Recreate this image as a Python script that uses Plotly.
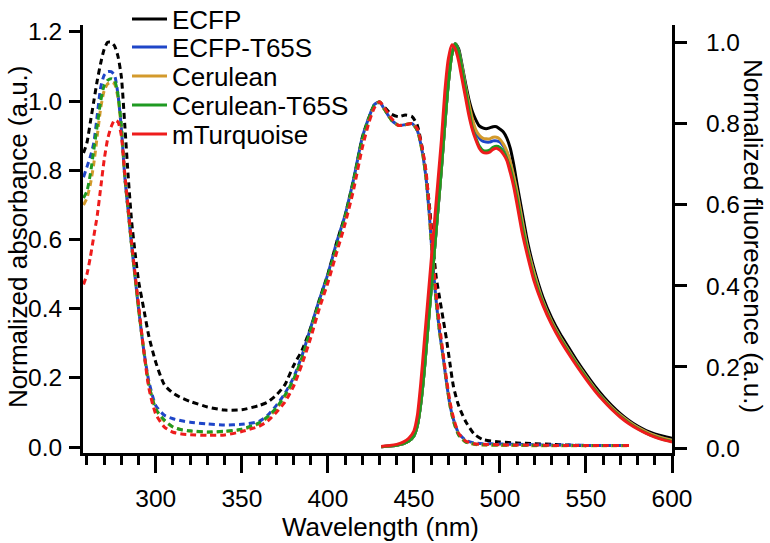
import plotly.graph_objects as go

names = ["ECFP", "ECFP-T65S", "Cerulean", "Cerulean-T65S", "mTurquoise"]
colors = ["#000000", "#1f46c8", "#d39a2c", "#1f9a22", "#ee1c1c"]

# Absorbance (dashed, left axis)
abs_wl = [258, 260, 262, 264, 266, 268, 270, 272, 274, 276,
          278, 280, 282, 284, 286, 288, 290, 293, 296, 300,
          305, 310, 315, 320, 330, 340, 350, 360, 365, 370,
          375, 380, 385, 390, 395, 400, 405, 410, 415, 420,
          424, 427, 430, 433, 437, 441, 445, 449, 452, 455,
          457, 459, 461, 463, 465, 467, 469, 471, 473, 476,
          480, 485, 490, 500, 510, 520, 530, 540, 550, 560,
          575]

abs_ecfp = [0.85, 0.88, 0.94, 1.00, 1.06, 1.11, 1.15, 1.17, 1.17, 1.16,
            1.13, 1.07, 0.93, 0.78, 0.65, 0.56, 0.48, 0.40, 0.32, 0.245,
            0.18, 0.156, 0.142, 0.132, 0.116, 0.107, 0.108, 0.120, 0.130, 0.150,
            0.180, 0.235, 0.280, 0.345, 0.425, 0.500, 0.590, 0.670, 0.775, 0.895,
            0.955, 0.988, 0.997, 0.982, 0.962, 0.955, 0.960, 0.955, 0.930, 0.860,
            0.790, 0.700, 0.590, 0.490, 0.430, 0.370, 0.310, 0.240, 0.175, 0.120,
            0.075, 0.038, 0.022, 0.015, 0.012, 0.010, 0.008, 0.006, 0.004, None,
            None]

abs_ecfp_t65s = [0.78, 0.81, 0.84, 0.88, 0.96, 1.04, 1.075, 1.085, 1.085, 1.075,
                 1.02, 0.92, 0.78, 0.68, 0.58, 0.49, 0.40, 0.28, 0.19, 0.12,
                 0.092, 0.082, 0.076, 0.072, 0.067, 0.064, 0.066, 0.074, 0.092, 0.120,
                 0.155, 0.200, 0.265, 0.345, 0.425, 0.500, 0.590, 0.670, 0.775, 0.895,
                 0.955, 0.990, 0.998, 0.975, 0.945, 0.930, 0.932, 0.935, 0.915, 0.850,
                 0.780, 0.670, 0.530, 0.420, 0.330, 0.260, 0.185, 0.120, 0.080, 0.040,
                 0.020, 0.012, 0.010, 0.009, 0.008, 0.007, 0.006, 0.006, 0.005, 0.005,
                 0.005]

abs_cerulean = [0.70, 0.72, 0.76, 0.82, 0.90, 0.98, 1.03, 1.05, 1.055, 1.05,
                1.01, 0.92, 0.78, 0.68, 0.58, 0.49, 0.40, 0.28, 0.18, 0.11,
                0.075, 0.058, 0.050, 0.046, 0.043, 0.045, 0.050, 0.068, 0.085, 0.110,
                0.145, 0.190, 0.255, 0.335, 0.415, 0.490, 0.575, 0.660, 0.765, 0.885,
                0.950, 0.985, 0.998, 0.975, 0.945, 0.930, 0.932, 0.935, 0.915, 0.850,
                0.780, 0.670, 0.530, 0.420, 0.330, 0.260, 0.185, 0.120, 0.075, 0.035,
                0.015, 0.008, 0.006, 0.005, 0.005, 0.004, 0.004, 0.004, 0.004, 0.004,
                0.004]

abs_cerulean_t65s = [0.72, 0.74, 0.79, 0.86, 0.93, 1.00, 1.045, 1.06, 1.065, 1.06,
                     1.02, 0.93, 0.78, 0.68, 0.58, 0.49, 0.40, 0.28, 0.18, 0.11,
                     0.078, 0.058, 0.050, 0.047, 0.044, 0.046, 0.052, 0.070, 0.088, 0.113,
                     0.150, 0.195, 0.260, 0.340, 0.420, 0.495, 0.580, 0.665, 0.770, 0.890,
                     0.952, 0.988, 0.998, 0.975, 0.945, 0.930, 0.932, 0.935, 0.915, 0.850,
                     0.780, 0.670, 0.530, 0.420, 0.330, 0.260, 0.185, 0.120, 0.075, 0.035,
                     0.015, 0.009, 0.007, 0.006, 0.006, 0.005, 0.005, 0.005, 0.005, 0.005,
                     0.005]

abs_mturquoise = [0.47, 0.50, 0.55, 0.61, 0.67, 0.75, 0.83, 0.89, 0.925, 0.945,
                  0.94, 0.90, 0.79, 0.69, 0.59, 0.50, 0.41, 0.28, 0.17, 0.095,
                  0.058, 0.043, 0.038, 0.036, 0.034, 0.035, 0.045, 0.060, 0.075, 0.100,
                  0.130, 0.175, 0.240, 0.315, 0.400, 0.475, 0.560, 0.645, 0.745, 0.865,
                  0.940, 0.980, 0.998, 0.980, 0.950, 0.930, 0.932, 0.935, 0.920, 0.860,
                  0.800, 0.690, 0.560, 0.440, 0.350, 0.270, 0.195, 0.130, 0.085, 0.040,
                  0.018, 0.010, 0.008, 0.007, 0.006, 0.006, 0.005, 0.005, 0.005, 0.005,
                  0.005]

# Fluorescence (solid, right axis)
fl_wl = [431, 436, 440, 444, 447, 450, 452, 454, 456, 458,
         460, 462, 464, 466, 468, 470, 472, 474, 476, 478,
         480, 482, 484, 486, 488, 490, 492, 494, 496, 498,
         500, 502, 504, 506, 508, 510, 513, 516, 520, 525,
         530, 535, 540, 545, 550, 555, 560, 565, 570, 575,
         580, 585, 590, 595, 600]

fl_ecfp = [0.003, 0.005, 0.007, 0.011, 0.017, 0.030, 0.055, 0.110, 0.190, 0.290,
           0.390, 0.490, 0.590, 0.690, 0.800, 0.900, 0.970, 0.998, 0.985, 0.945,
           0.900, 0.860, 0.830, 0.810, 0.795, 0.790, 0.788, 0.790, 0.793, 0.793,
           0.787, 0.780, 0.765, 0.740, 0.700, 0.650, 0.580, 0.510, 0.440, 0.372,
           0.322, 0.282, 0.248, 0.214, 0.183, 0.154, 0.128, 0.105, 0.085, 0.068,
           0.054, 0.043, 0.035, 0.029, 0.024]

fl_ecfp_t65s = [0.003, 0.005, 0.007, 0.011, 0.017, 0.030, 0.055, 0.110, 0.190, 0.290,
                0.390, 0.490, 0.590, 0.690, 0.800, 0.900, 0.970, 0.998, 0.980, 0.940,
                0.890, 0.845, 0.805, 0.780, 0.765, 0.757, 0.755, 0.755, 0.758, 0.758,
                0.755, 0.745, 0.730, 0.705, 0.670, 0.630, 0.560, 0.495, 0.430, 0.362,
                0.313, 0.274, 0.240, 0.207, 0.177, 0.148, 0.122, 0.100, 0.081, 0.065,
                0.051, 0.040, 0.031, 0.024, 0.019]

fl_cerulean = [0.003, 0.005, 0.007, 0.011, 0.017, 0.030, 0.055, 0.110, 0.190, 0.290,
               0.390, 0.490, 0.590, 0.690, 0.800, 0.900, 0.970, 0.998, 0.980, 0.940,
               0.892, 0.850, 0.812, 0.785, 0.772, 0.765, 0.763, 0.763, 0.767, 0.767,
               0.762, 0.750, 0.733, 0.707, 0.672, 0.632, 0.560, 0.495, 0.430, 0.362,
               0.313, 0.274, 0.240, 0.207, 0.177, 0.148, 0.122, 0.100, 0.081, 0.065,
               0.051, 0.040, 0.031, 0.024, 0.019]

fl_cerulean_t65s = [0.003, 0.005, 0.007, 0.011, 0.017, 0.030, 0.055, 0.110, 0.190, 0.290,
                    0.390, 0.490, 0.590, 0.690, 0.800, 0.900, 0.970, 0.998, 0.980, 0.935,
                    0.885, 0.835, 0.790, 0.765, 0.745, 0.735, 0.733, 0.735, 0.742, 0.745,
                    0.742, 0.732, 0.714, 0.690, 0.655, 0.615, 0.545, 0.485, 0.418, 0.357,
                    0.309, 0.270, 0.236, 0.204, 0.174, 0.145, 0.120, 0.097, 0.078, 0.062,
                    0.048, 0.037, 0.028, 0.021, 0.016]

fl_mturquoise = [0.004, 0.006, 0.009, 0.015, 0.024, 0.042, 0.080, 0.160, 0.260, 0.360,
                 0.460, 0.560, 0.660, 0.760, 0.880, 0.960, 0.995, 0.985, 0.955, 0.910,
                 0.865, 0.820, 0.785, 0.760, 0.740, 0.730, 0.728, 0.730, 0.737, 0.740,
                 0.735, 0.725, 0.710, 0.680, 0.645, 0.600, 0.530, 0.475, 0.410, 0.352,
                 0.305, 0.266, 0.232, 0.200, 0.170, 0.142, 0.117, 0.095, 0.076, 0.060,
                 0.047, 0.036, 0.027, 0.020, 0.015]

abs_series = [abs_ecfp, abs_ecfp_t65s, abs_cerulean, abs_cerulean_t65s, abs_mturquoise]
fl_series = [fl_ecfp, fl_ecfp_t65s, fl_cerulean, fl_cerulean_t65s, fl_mturquoise]

FONT = "Arial, 'Liberation Sans', Helvetica, sans-serif"
W, H = 770, 543
ML, MR, MT, MB = 83, 98, 0, 90
PLOT_TOP_PX = 25  # top of axes area
paper_h = H - MT - MB
paper_w = W - ML - MR
ydom_top = (H - MB - PLOT_TOP_PX) / paper_h

legend_keys = ["legend", "legend2", "legend3", "legend4", "legend5"]
legend_px_y = [19, 47, 76, 105, 134]

fig = go.Figure()
for name, col, ys in zip(names, colors, abs_series):
    fig.add_trace(go.Scatter(
        x=abs_wl, y=ys, mode="lines", name=name, showlegend=False,
        line=dict(color=col, width=3, dash="6px,4px", shape="spline", smoothing=0.6),
        connectgaps=False, yaxis="y"))
for name, col, ys, lk in zip(names, colors, fl_series, legend_keys):
    fig.add_trace(go.Scatter(
        x=fl_wl, y=ys, mode="lines", name=name, legend=lk,
        line=dict(color=col, width=3, shape="spline", smoothing=0.6),
        yaxis="y2"))

axis_common = dict(
    showline=True, linewidth=3, linecolor="black", ticks="outside",
    tickwidth=3, tickcolor="black", showgrid=False, zeroline=False,
    automargin=False,
    tickfont=dict(family=FONT, size=24.5, color="black"),
)

legends = {}
for lk, py in zip(legend_keys, legend_px_y):
    legends[lk] = dict(x=(127 - ML) / paper_w, y=(H - MB - py) / paper_h,
                       xanchor="left", yanchor="middle", bgcolor="rgba(0,0,0,0)",
                       borderwidth=0, font=dict(family=FONT, size=26, color="black"),
                       itemwidth=35)

fig.update_layout(
    width=W, height=H,
    margin=dict(l=ML, r=MR, t=MT, b=MB, autoexpand=False),
    paper_bgcolor="white", plot_bgcolor="white",
    font=dict(family=FONT, size=26, color="black"),
    xaxis=dict(axis_common, range=[257.7, 600], tickvals=[300, 350, 400, 450, 500, 550, 600],
               ticklen=17, ticklabelstandoff=5,
               minor=dict(dtick=10, tick0=300, ticklen=9, tickwidth=3, ticks="outside",
                          tickcolor="black", showgrid=False)),
    yaxis=dict(axis_common, domain=[0, ydom_top], range=[-0.017, 1.22],
               tickvals=[0, 0.2, 0.4, 0.6, 0.8, 1.0, 1.2],
               tickformat=".1f", ticklen=11, ticklabelstandoff=2),
    yaxis2=dict(axis_common, domain=[0, ydom_top], overlaying="y", side="right",
                range=[-0.0123, 1.044],
                tickvals=[0, 0.2, 0.4, 0.6, 0.8, 1.0], tickformat=".1f", ticklen=12,
                ticklabelstandoff=14),
    annotations=[
        dict(text="Wavelength (nm)", xref="paper", yref="paper", x=(380 - ML) / paper_w,
             y=(H - MB - 527) / paper_h,
             showarrow=False, xanchor="center", yanchor="middle",
             font=dict(family=FONT, size=26)),
        dict(text="Normalized absorbance (a.u.)", xref="paper", yref="paper",
             x=(18 - ML) / paper_w, y=(H - MB - 237) / paper_h,
             showarrow=False, textangle=-90, xanchor="center", yanchor="middle",
             font=dict(family=FONT, size=26)),
        dict(text="Normalized fluorescence (a.u.)", xref="paper", yref="paper",
             x=(753 - ML) / paper_w, y=(H - MB - 236) / paper_h,
             showarrow=False, textangle=90, xanchor="center", yanchor="middle",
             font=dict(family=FONT, size=26)),
    ],
    **legends,
)

fig.write_html("out.html", config={"displayModeBar": False},
               post_script="document.body.style.margin='0px';")
